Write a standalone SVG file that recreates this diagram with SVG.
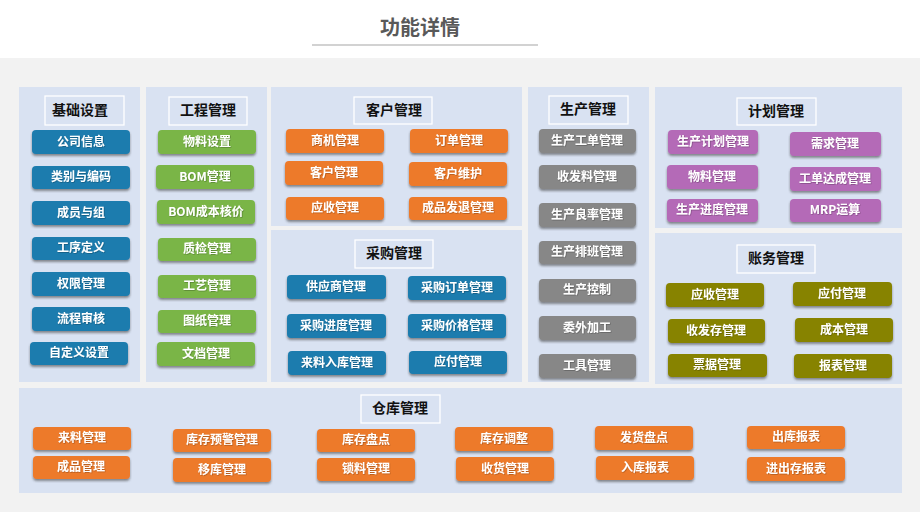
<svg xmlns="http://www.w3.org/2000/svg" width="920" height="512" viewBox="0 0 920 512">
<defs>
<filter id="sh" x="-10%" y="-20%" width="120%" height="160%">
<feDropShadow dx="0" dy="2" stdDeviation="1" flood-color="#3a3a3a" flood-opacity="0.55"/>
</filter>
<filter id="tsh" x="-10%" y="-20%" width="120%" height="150%">
<feDropShadow dx="0.6" dy="0.6" stdDeviation="0.3" flood-color="#000" flood-opacity="0.35"/>
</filter>
</defs>
<style>
.panel{fill:#d9e2f2}
.tbox{fill:none;stroke:#ffffff;stroke-width:1.3}
.ttl{font-family:"Noto Sans CJK SC","Liberation Sans",sans-serif;font-size:14px;font-weight:bold;fill:#111;text-anchor:middle}
.btn{filter:url(#sh)}
.lbl{font-family:"Noto Sans CJK SC","Liberation Sans",sans-serif;font-size:12px;font-weight:bold;fill:#ffffff;text-anchor:middle;filter:url(#tsh)}
.blue{fill:#1b7cae}
.green{fill:#7ab547}
.orange{fill:#ed7a2b}
.gray{fill:#878787}
.purple{fill:#b46ab7}
.olive{fill:#878300}
</style>
<rect x="0" y="0" width="920" height="512" fill="#ffffff"/>
<rect x="0" y="58" width="920" height="454" fill="#f2f2f2"/>
<g id="title">
<text x="420" y="35" font-family="Noto Sans CJK SC, Liberation Sans, sans-serif" font-size="20" font-weight="bold" fill="#595959" text-anchor="middle">功能详情</text>
<line x1="312" y1="45" x2="538" y2="45" stroke="#a6a6a6" stroke-width="1.2"/>
</g>
<g id="connectors"/>

<g id="panel-jichu">
<rect class="panel" x="19" y="87" width="121" height="295"/>
<rect class="tbox" x="45" y="96" width="79" height="29"/>
<text class="ttl" x="80" y="115">基础设置</text>
</g>
<g id="panel-gongcheng">
<rect class="panel" x="146" y="87" width="121" height="295"/>
<rect class="tbox" x="169" y="97" width="78" height="28"/>
<text class="ttl" x="208" y="115">工程管理</text>
</g>
<g id="panel-kehu">
<rect class="panel" x="271" y="87" width="251" height="139"/>
<rect class="tbox" x="354" y="97" width="78" height="27"/>
<text class="ttl" x="394" y="115">客户管理</text>
</g>
<g id="panel-caigou">
<rect class="panel" x="271" y="230" width="251" height="152"/>
<rect class="tbox" x="355" y="240" width="78" height="28"/>
<text class="ttl" x="394" y="258">采购管理</text>
</g>
<g id="panel-shengchan">
<rect class="panel" x="528" y="87" width="121" height="295"/>
<rect class="tbox" x="549" y="96" width="79" height="28"/>
<text class="ttl" x="588" y="114">生产管理</text>
</g>
<g id="panel-jihua">
<rect class="panel" x="655" y="87" width="247" height="141"/>
<rect class="tbox" x="737" y="98" width="79" height="27"/>
<text class="ttl" x="776" y="116">计划管理</text>
</g>
<g id="panel-zhangwu">
<rect class="panel" x="655" y="233" width="247" height="151"/>
<rect class="tbox" x="737" y="245" width="78" height="28"/>
<text class="ttl" x="776" y="263">账务管理</text>
</g>
<g id="panel-cangku">
<rect class="panel" x="19" y="388" width="883" height="105"/>
<rect class="tbox" x="361" y="395" width="79" height="28"/>
<text class="ttl" x="400" y="413">仓库管理</text>
</g>

<!-- 基础设置 -->
<g id="n-gongsixinxi"><rect class="btn blue" x="32" y="130" width="98" height="24" rx="4"/><text class="lbl" x="81" y="146">公司信息</text></g>
<g id="n-leibie"><rect class="btn blue" x="32" y="166" width="98" height="23" rx="4"/><text class="lbl" x="81" y="181">类别与编码</text></g>
<g id="n-chengyuan"><rect class="btn blue" x="32" y="201" width="98" height="24" rx="4"/><text class="lbl" x="81" y="217">成员与组</text></g>
<g id="n-gongxu"><rect class="btn blue" x="32" y="237" width="98" height="23" rx="4"/><text class="lbl" x="81" y="252">工序定义</text></g>
<g id="n-quanxian"><rect class="btn blue" x="32" y="272" width="98" height="24" rx="4"/><text class="lbl" x="81" y="288">权限管理</text></g>
<g id="n-liucheng"><rect class="btn blue" x="32" y="307" width="98" height="24" rx="4"/><text class="lbl" x="81" y="323">流程审核</text></g>
<g id="n-zidingyi"><rect class="btn blue" x="30" y="342" width="98" height="23" rx="4"/><text class="lbl" x="79" y="357">自定义设置</text></g>

<!-- 工程管理 -->
<g id="n-wuliaoshezhi"><rect class="btn green" x="158" y="130" width="98" height="24" rx="4"/><text class="lbl" x="207" y="146">物料设置</text></g>
<g id="n-bom"><rect class="btn green" x="156" y="165" width="98" height="24" rx="4"/><text class="lbl" x="205" y="181">BOM管理</text></g>
<g id="n-bomcb"><rect class="btn green" x="157" y="200" width="98" height="24" rx="4"/><text class="lbl" x="206" y="216">BOM成本核价</text></g>
<g id="n-zhijian"><rect class="btn green" x="158" y="238" width="98" height="23" rx="4"/><text class="lbl" x="207" y="253">质检管理</text></g>
<g id="n-gongyi"><rect class="btn green" x="158" y="275" width="98" height="23" rx="4"/><text class="lbl" x="207" y="290">工艺管理</text></g>
<g id="n-tuzhi"><rect class="btn green" x="158" y="310" width="98" height="23" rx="4"/><text class="lbl" x="207" y="325">图纸管理</text></g>
<g id="n-wendang"><rect class="btn green" x="157" y="342" width="98" height="24" rx="4"/><text class="lbl" x="206" y="358">文档管理</text></g>

<!-- 客户管理 -->
<g id="n-shangji"><rect class="btn orange" x="286" y="129" width="98" height="24" rx="4"/><text class="lbl" x="335" y="145">商机管理</text></g>
<g id="n-dingdan"><rect class="btn orange" x="410" y="129" width="98" height="24" rx="4"/><text class="lbl" x="459" y="145">订单管理</text></g>
<g id="n-kehuguanli"><rect class="btn orange" x="285" y="161" width="98" height="24" rx="4"/><text class="lbl" x="334" y="177">客户管理</text></g>
<g id="n-kehuweihu"><rect class="btn orange" x="409" y="162" width="98" height="24" rx="4"/><text class="lbl" x="458" y="178">客户维护</text></g>
<g id="n-yingshou1"><rect class="btn orange" x="286" y="197" width="98" height="23" rx="4"/><text class="lbl" x="335" y="212">应收管理</text></g>
<g id="n-chengpinfatui"><rect class="btn orange" x="409" y="197" width="98" height="23" rx="4"/><text class="lbl" x="458" y="212">成品发退管理</text></g>

<!-- 采购管理 -->
<g id="n-gongyingshang"><rect class="btn blue" x="287" y="275" width="99" height="24" rx="4"/><text class="lbl" x="336" y="291">供应商管理</text></g>
<g id="n-caigoudingdan"><rect class="btn blue" x="408" y="276" width="98" height="24" rx="4"/><text class="lbl" x="457" y="292">采购订单管理</text></g>
<g id="n-caigoujindu"><rect class="btn blue" x="287" y="314" width="99" height="24" rx="4"/><text class="lbl" x="336" y="330">采购进度管理</text></g>
<g id="n-caigoujiage"><rect class="btn blue" x="408" y="314" width="98" height="24" rx="4"/><text class="lbl" x="457" y="330">采购价格管理</text></g>
<g id="n-lailiaoruku"><rect class="btn blue" x="288" y="351" width="98" height="24" rx="4"/><text class="lbl" x="337" y="367">来料入库管理</text></g>
<g id="n-yingfu1"><rect class="btn blue" x="409" y="351" width="98" height="23" rx="4"/><text class="lbl" x="458" y="366">应付管理</text></g>

<!-- 生产管理 -->
<g id="n-scgd"><rect class="btn gray" x="539" y="129" width="97" height="24" rx="4"/><text class="lbl" x="587" y="145">生产工单管理</text></g>
<g id="n-sfl"><rect class="btn gray" x="539" y="165" width="97" height="24" rx="4"/><text class="lbl" x="587" y="181">收发料管理</text></g>
<g id="n-sclv"><rect class="btn gray" x="539" y="203" width="97" height="24" rx="4"/><text class="lbl" x="587" y="219">生产良率管理</text></g>
<g id="n-scpb"><rect class="btn gray" x="539" y="241" width="97" height="23" rx="4"/><text class="lbl" x="587" y="256">生产排班管理</text></g>
<g id="n-sckz"><rect class="btn gray" x="539" y="279" width="97" height="23" rx="4"/><text class="lbl" x="587" y="294">生产控制</text></g>
<g id="n-wwjg"><rect class="btn gray" x="539" y="316" width="97" height="24" rx="4"/><text class="lbl" x="587" y="332">委外加工</text></g>
<g id="n-gjgl"><rect class="btn gray" x="539" y="354" width="97" height="24" rx="4"/><text class="lbl" x="587" y="370">工具管理</text></g>

<!-- 计划管理 -->
<g id="n-scjh"><rect class="btn purple" x="668" y="130" width="90" height="24" rx="4"/><text class="lbl" x="713" y="146">生产计划管理</text></g>
<g id="n-xuqiu"><rect class="btn purple" x="790" y="132" width="91" height="24" rx="4"/><text class="lbl" x="835" y="148">需求管理</text></g>
<g id="n-wuliao"><rect class="btn purple" x="667" y="165" width="91" height="24" rx="4"/><text class="lbl" x="712" y="181">物料管理</text></g>
<g id="n-gddc"><rect class="btn purple" x="790" y="167" width="91" height="24" rx="4"/><text class="lbl" x="835" y="183">工单达成管理</text></g>
<g id="n-scjd"><rect class="btn purple" x="667" y="199" width="91" height="23" rx="4"/><text class="lbl" x="712" y="214">生产进度管理</text></g>
<g id="n-mrp"><rect class="btn purple" x="790" y="199" width="91" height="23" rx="4"/><text class="lbl" x="835" y="214">MRP运算</text></g>

<!-- 账务管理 -->
<g id="n-yingshou2"><rect class="btn olive" x="666" y="283" width="98" height="24" rx="4"/><text class="lbl" x="715" y="299">应收管理</text></g>
<g id="n-yingfu2"><rect class="btn olive" x="793" y="282" width="99" height="24" rx="4"/><text class="lbl" x="842" y="298">应付管理</text></g>
<g id="n-sfc"><rect class="btn olive" x="668" y="319" width="97" height="24" rx="4"/><text class="lbl" x="716" y="335">收发存管理</text></g>
<g id="n-chengben"><rect class="btn olive" x="795" y="318" width="98" height="24" rx="4"/><text class="lbl" x="844" y="334">成本管理</text></g>
<g id="n-piaoju"><rect class="btn olive" x="668" y="354" width="99" height="23" rx="4"/><text class="lbl" x="717" y="369">票据管理</text></g>
<g id="n-baobiao"><rect class="btn olive" x="794" y="354" width="98" height="24" rx="4"/><text class="lbl" x="843" y="370">报表管理</text></g>

<!-- 仓库管理 -->
<g id="n-lailiao"><rect class="btn orange" x="33" y="427" width="98" height="23" rx="4"/><text class="lbl" x="82" y="442">来料管理</text></g>
<g id="n-chengpin"><rect class="btn orange" x="33" y="456" width="97" height="23" rx="4"/><text class="lbl" x="81" y="471">成品管理</text></g>
<g id="n-kcyj"><rect class="btn orange" x="173" y="429" width="98" height="23" rx="4"/><text class="lbl" x="222" y="444">库存预警管理</text></g>
<g id="n-yiku"><rect class="btn orange" x="173" y="458" width="98" height="24" rx="4"/><text class="lbl" x="222" y="474">移库管理</text></g>
<g id="n-kcpd"><rect class="btn orange" x="317" y="429" width="98" height="23" rx="4"/><text class="lbl" x="366" y="444">库存盘点</text></g>
<g id="n-suoliao"><rect class="btn orange" x="317" y="458" width="98" height="23" rx="4"/><text class="lbl" x="366" y="473">锁料管理</text></g>
<g id="n-kctz"><rect class="btn orange" x="455" y="427" width="98" height="24" rx="4"/><text class="lbl" x="504" y="443">库存调整</text></g>
<g id="n-shouhuo"><rect class="btn orange" x="456" y="457" width="98" height="24" rx="4"/><text class="lbl" x="505" y="473">收货管理</text></g>
<g id="n-fhpd"><rect class="btn orange" x="595" y="426" width="98" height="24" rx="4"/><text class="lbl" x="644" y="442">发货盘点</text></g>
<g id="n-rkbb"><rect class="btn orange" x="596" y="456" width="98" height="24" rx="4"/><text class="lbl" x="645" y="472">入库报表</text></g>
<g id="n-ckbb"><rect class="btn orange" x="747" y="426" width="98" height="23" rx="4"/><text class="lbl" x="796" y="441">出库报表</text></g>
<g id="n-jcc"><rect class="btn orange" x="747" y="457" width="98" height="24" rx="4"/><text class="lbl" x="796" y="473">进出存报表</text></g>
</svg>
